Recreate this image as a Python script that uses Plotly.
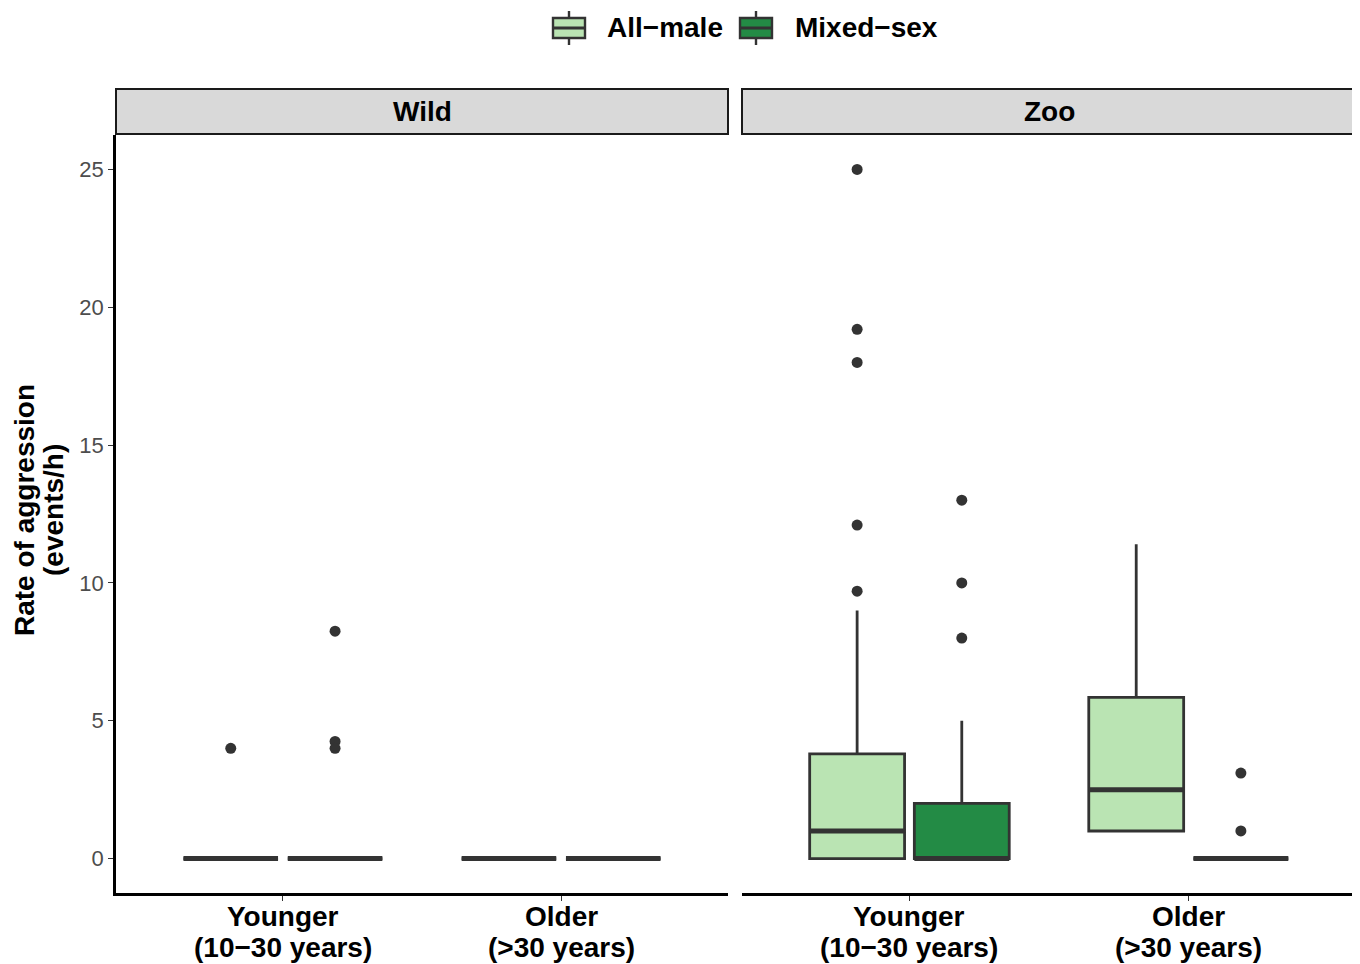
import plotly.graph_objects as go

# ---- data ----
facets = ["Wild", "Zoo"]
age_line1 = ["Younger", "Older"]
age_line2 = ["(10−30 years)", "(>30 years)"]
groups = ["All−male", "Mixed−sex"]
colors = {"All−male": "#BAE4B3", "Mixed−sex": "#238B45"}

# box stats per facet, group: lists over age classes [Younger, Older]
q1 = {
    ("Wild", "All−male"): [0, 0], ("Wild", "Mixed−sex"): [0, 0],
    ("Zoo", "All−male"): [0, 1.0], ("Zoo", "Mixed−sex"): [0, 0],
}
med = {
    ("Wild", "All−male"): [0, 0], ("Wild", "Mixed−sex"): [0, 0],
    ("Zoo", "All−male"): [1.0, 2.5], ("Zoo", "Mixed−sex"): [0, 0],
}
q3 = {
    ("Wild", "All−male"): [0, 0], ("Wild", "Mixed−sex"): [0, 0],
    ("Zoo", "All−male"): [3.8, 5.85], ("Zoo", "Mixed−sex"): [2.0, 0],
}
lowf = {
    ("Wild", "All−male"): [0, 0], ("Wild", "Mixed−sex"): [0, 0],
    ("Zoo", "All−male"): [0, 1.0], ("Zoo", "Mixed−sex"): [0, 0],
}
upf = {
    ("Wild", "All−male"): [0, 0], ("Wild", "Mixed−sex"): [0, 0],
    ("Zoo", "All−male"): [9.0, 11.4], ("Zoo", "Mixed−sex"): [5.0, 0],
}
outliers = {
    ("Wild", "All−male"): [[4.0], []],
    ("Wild", "Mixed−sex"): [[8.25, 4.25, 4.0], []],
    ("Zoo", "All−male"): [[25.0, 19.2, 18.0, 12.1, 9.7], []],
    ("Zoo", "Mixed−sex"): [[13.0, 10.0, 8.0], [3.1, 1.0]],
}

# ---- styling ----
offsets = {"All−male": -0.1875, "Mixed−sex": 0.1875}
box_w = 0.34
dark = "#333333"
font_fam = "Liberation Sans, Arial, sans-serif"

# page geometry (the page body has an 8px margin)
OFF = 8
W, H = 1360 - OFF, 964 - OFF
P_L, P_R, P_T, P_B = 116, 1356, 89, 893
ml, mr, mt, mb = P_L - OFF, OFF + W - P_R, P_T - OFF, OFF + H - P_B
pw = P_R - P_L
ph = P_B - P_T


def px(xp):
    return (xp - P_L) / pw


def py(yp):
    return (P_B - yp) / ph


fig = go.Figure()
for fi, facet in enumerate(facets):
    xa = "x" if fi == 0 else "x2"
    for g in groups:
        key = (facet, g)
        xs = [i + 1 + offsets[g] for i in range(len(age_line1))]
        fig.add_trace(go.Box(
            x=xs, q1=q1[key], median=med[key], q3=q3[key],
            lowerfence=lowf[key], upperfence=upf[key],
            width=box_w, fillcolor=colors[g],
            line=dict(color=dark, width=2.8),
            whiskerwidth=0, boxpoints=False,
            name=g, legendgroup=g, showlegend=False,
            xaxis=xa, yaxis="y", hoverinfo="skip",
        ))
        # thicker median line
        for x0, m in zip(xs, med[key]):
            fig.add_trace(go.Scatter(
                x=[x0 - box_w / 2, x0 + box_w / 2], y=[m, m], mode="lines",
                line=dict(color=dark, width=5), showlegend=False,
                xaxis=xa, yaxis="y", hoverinfo="skip",
            ))
        ox, oy = [], []
        for x0, pts in zip(xs, outliers[key]):
            ox += [x0] * len(pts)
            oy += pts
        if ox:
            fig.add_trace(go.Scatter(
                x=ox, y=oy, mode="markers",
                marker=dict(color=dark, size=11), showlegend=False,
                xaxis=xa, yaxis="y", hoverinfo="skip",
            ))

d1 = [0, px(728)]
d2 = [px(742), 1]
ytop = py(135)

xcommon = dict(
    range=[0.4, 2.6], tickvals=[1, 2], showticklabels=False,
    showline=True, linecolor="black", linewidth=2.5,
    ticks="outside", ticklen=5, tickcolor=dark, tickwidth=1.2,
    showgrid=False, zeroline=False, fixedrange=True,
)
fig.update_layout(
    width=W, height=H,
    margin=dict(l=ml, r=mr, t=mt, b=mb),
    paper_bgcolor="white", plot_bgcolor="white",
    boxmode="overlay", showlegend=False,
    xaxis=dict(domain=d1, anchor="y", **xcommon),
    xaxis2=dict(domain=d2, anchor="y", **xcommon),
    yaxis=dict(
        domain=[0, ytop], anchor="x", range=[-1.25, 26.25],
        tickvals=[0, 5, 10, 15, 20, 25],
        showline=True, linecolor="black", linewidth=2.5,
        ticks="outside", ticklen=5, tickcolor=dark, tickwidth=1.2,
        tickfont=dict(family=font_fam, size=22, color="#4D4D4D"),
        showgrid=False, zeroline=False,
    ),
    font=dict(family=font_fam),
)

bold = dict(family=font_fam, size=28, color="black", weight="bold")

# x tick labels (two lines each)
for xa in ["x", "x2"]:
    for i, (l1, l2) in enumerate(zip(age_line1, age_line2)):
        fig.add_annotation(text=l1, xref=xa, yref="paper", x=i + 1, y=py(916),
                           xanchor="center", yanchor="middle", showarrow=False, font=bold)
        fig.add_annotation(text=l2, xref=xa, yref="paper", x=i + 1, y=py(947),
                           xanchor="center", yanchor="middle", showarrow=False, font=bold)

# y axis title (two lines)
fig.add_annotation(text="Rate of aggression", xref="paper", yref="paper",
                   x=px(24), y=py(510), textangle=-90, xanchor="center", yanchor="middle",
                   showarrow=False, font=bold)
fig.add_annotation(text="(events/h)", xref="paper", yref="paper",
                   x=px(53), y=py(510), textangle=-90, xanchor="center", yanchor="middle",
                   showarrow=False, font=bold)

# facet strips
for facet, dom in zip(facets, [d1, d2]):
    fig.add_shape(type="rect", xref="paper", yref="paper",
                  x0=dom[0], x1=dom[1], y0=py(134), y1=py(89),
                  fillcolor="#D9D9D9", line=dict(color="#1a1a1a", width=2), layer="above")
    fig.add_annotation(text=facet, xref="paper", yref="paper",
                       x=(dom[0] + dom[1]) / 2, y=py(112),
                       xanchor="center", yanchor="middle", showarrow=False, font=bold)

# legend (drawn as boxplot keys)
legend_keys = {"All−male": (553, 605), "Mixed−sex": (740, 793)}
for g in groups:
    kx, tx = legend_keys[g]
    cx = kx + 16
    fig.add_shape(type="line", xref="paper", yref="paper",
                  x0=px(cx), x1=px(cx), y0=py(11), y1=py(45),
                  line=dict(color=dark, width=2.4))
    fig.add_shape(type="rect", xref="paper", yref="paper",
                  x0=px(kx), x1=px(kx + 32), y0=py(38), y1=py(18),
                  fillcolor=colors[g], line=dict(color=dark, width=2.4))
    fig.add_shape(type="line", xref="paper", yref="paper",
                  x0=px(kx), x1=px(kx + 32), y0=py(28), y1=py(28),
                  line=dict(color=dark, width=3))
    fig.add_annotation(text=g, xref="paper", yref="paper", x=px(tx), y=py(28),
                       xanchor="left", yanchor="middle", showarrow=False, font=bold)

fig.write_html("out.html")
